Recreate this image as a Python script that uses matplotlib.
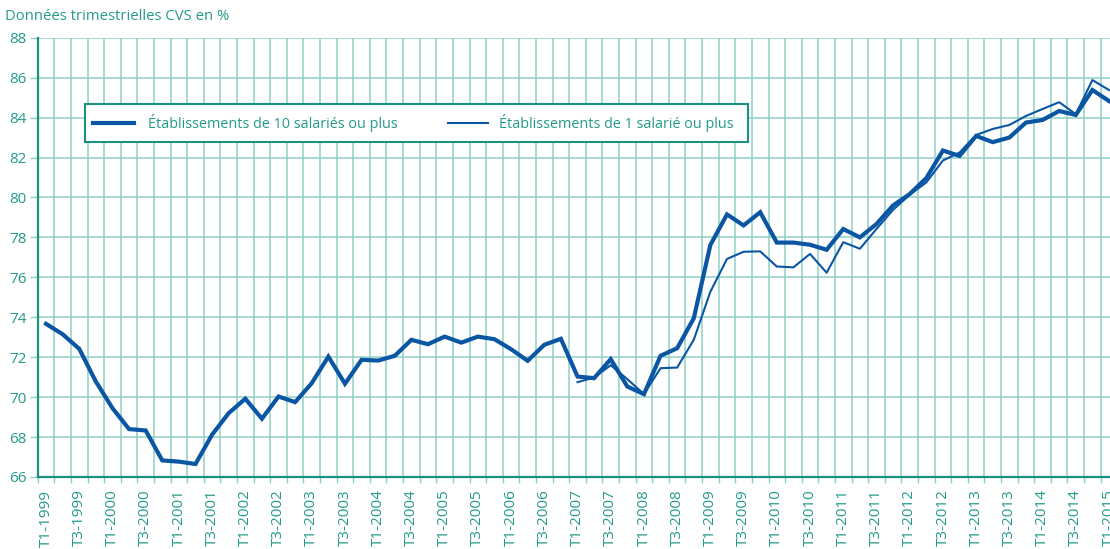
import matplotlib
matplotlib.use("Agg")
import matplotlib.pyplot as plt
from matplotlib.lines import Line2D
from matplotlib.patches import Rectangle
from matplotlib.ticker import FixedLocator

plt.rcParams['font.family'] = ['Open Sans', 'DejaVu Sans']

# Quarters T1-1999 .. T1-2015
years = list(range(1999, 2016))
quarters = [f"T{q}-{y}" for y in years for q in (1, 2, 3, 4)][:65]

# Établissements de 10 salariés ou plus (from T1-1999)
rate_10plus = [
    73.67, 73.15, 72.42, 70.78, 69.45, 68.40, 68.33, 66.83, 66.77, 66.65,
    68.12, 69.20, 69.92, 68.92, 70.03, 69.75, 70.70, 72.03, 70.67, 71.87,
    71.83, 72.07, 72.87, 72.65, 73.03, 72.73, 73.03, 72.90, 72.40, 71.82,
    72.62, 72.92, 71.03, 70.95, 71.90, 70.53, 70.15, 72.07, 72.45, 73.95,
    77.62, 79.15, 78.60, 79.26, 77.74, 77.74, 77.63, 77.38, 78.42, 78.00,
    78.67, 79.60, 80.17, 80.97, 82.35, 82.08, 83.08, 82.77, 83.00, 83.75,
    83.88, 84.33, 84.13, 85.38, 84.83,
]

# Établissements de 1 salarié ou plus (from T1-2007)
start_1plus = quarters.index("T1-2007")
rate_1plus = [
    70.75, 70.98, 71.60, 70.90, 70.15, 71.45, 71.48, 72.87, 75.28, 76.92,
    77.28, 77.30, 76.54, 76.50, 77.17, 76.23, 77.76, 77.43, 78.42, 79.38,
    80.13, 80.75, 81.85, 82.25, 83.13, 83.43, 83.63, 84.08, 84.43, 84.77,
    84.17, 85.88, 85.38,
]

label_10 = "Établissements de 10 salariés ou plus"
label_1 = "Établissements de 1 salarié ou plus"
title = "Données trimestrielles CVS en %"

blue = "#0a56a3"
teal_text = "#239b8a"
teal_grid = "#8fcfc6"
teal_axis = "#1a927f"

W, H = 1110, 549
fig = plt.figure(figsize=(W / 100, H / 100), dpi=100)
left, right, top, bottom = 37.7, 1110, 37.7, 477
ax = fig.add_axes([left / W, 1 - bottom / H, (right - left) / W, (bottom - top) / H])

x10 = list(range(len(rate_10plus)))
x1 = list(range(start_1plus, start_1plus + len(rate_1plus)))
ax.plot(x1, rate_1plus, color=blue, lw=1.5, label=label_1, zorder=3)
ax.plot(x10, rate_10plus, color=blue, lw=3.0, label=label_10, zorder=4,
        solid_joinstyle='miter')

ax.set_xlim(-0.5, 64.06)
ax.set_ylim(66, 88)
ax.set_yticks(range(66, 89, 2))

# labels on every other quarter, gridlines/ticks between quarters
ax.set_xticks(range(0, len(quarters), 2))
ax.set_xticklabels(quarters[::2], rotation=90)
ax.xaxis.set_minor_locator(FixedLocator([i + 0.5 for i in range(-1, 66)]))
ax.tick_params(axis='x', which='major', length=0, pad=9, labelsize=11,
               labelcolor=teal_text)
ax.tick_params(axis='x', which='minor', length=4, width=1, color=teal_grid)
ax.tick_params(axis='y', length=6, width=1, color=teal_grid, labelsize=11,
               labelcolor=teal_text, pad=2)

ax.grid(True, axis='x', which='minor', color=teal_grid, lw=1.1)
ax.grid(True, axis='y', which='major', color=teal_grid, lw=1.1)
ax.set_axisbelow(True)

for s in ('top', 'right'):
    ax.spines[s].set_visible(False)
for s in ('left', 'bottom'):
    ax.spines[s].set_color(teal_axis)
    ax.spines[s].set_linewidth(1.6)

# legend drawn by hand in pixel coords (top-left origin)
def fx(px):
    return px / W

def fy(py):
    return 1 - py / H

fig.add_artist(Rectangle((fx(85), fy(142)), fx(748) - fx(85), fy(104) - fy(142),
                         transform=fig.transFigure, facecolor='white',
                         edgecolor=teal_axis, lw=1.5, zorder=5))
ly = 123
fig.add_artist(Line2D([fx(93), fx(134)], [fy(ly), fy(ly)], transform=fig.transFigure,
                      color=blue, lw=3.0, zorder=6))
fig.text(fx(148), fy(ly), label_10, color=teal_text, fontsize=10.4, va='center',
         ha='left', zorder=6)
fig.add_artist(Line2D([fx(448), fx(488)], [fy(ly), fy(ly)], transform=fig.transFigure,
                      color=blue, lw=1.5, zorder=6))
fig.text(fx(499), fy(ly), label_1, color=teal_text, fontsize=10.4, va='center',
         ha='left', zorder=6)

fig.text(fx(5), fy(17), title, color=teal_text, fontsize=10.7, va='center', ha='left')

fig.savefig("out.png", dpi=100)
